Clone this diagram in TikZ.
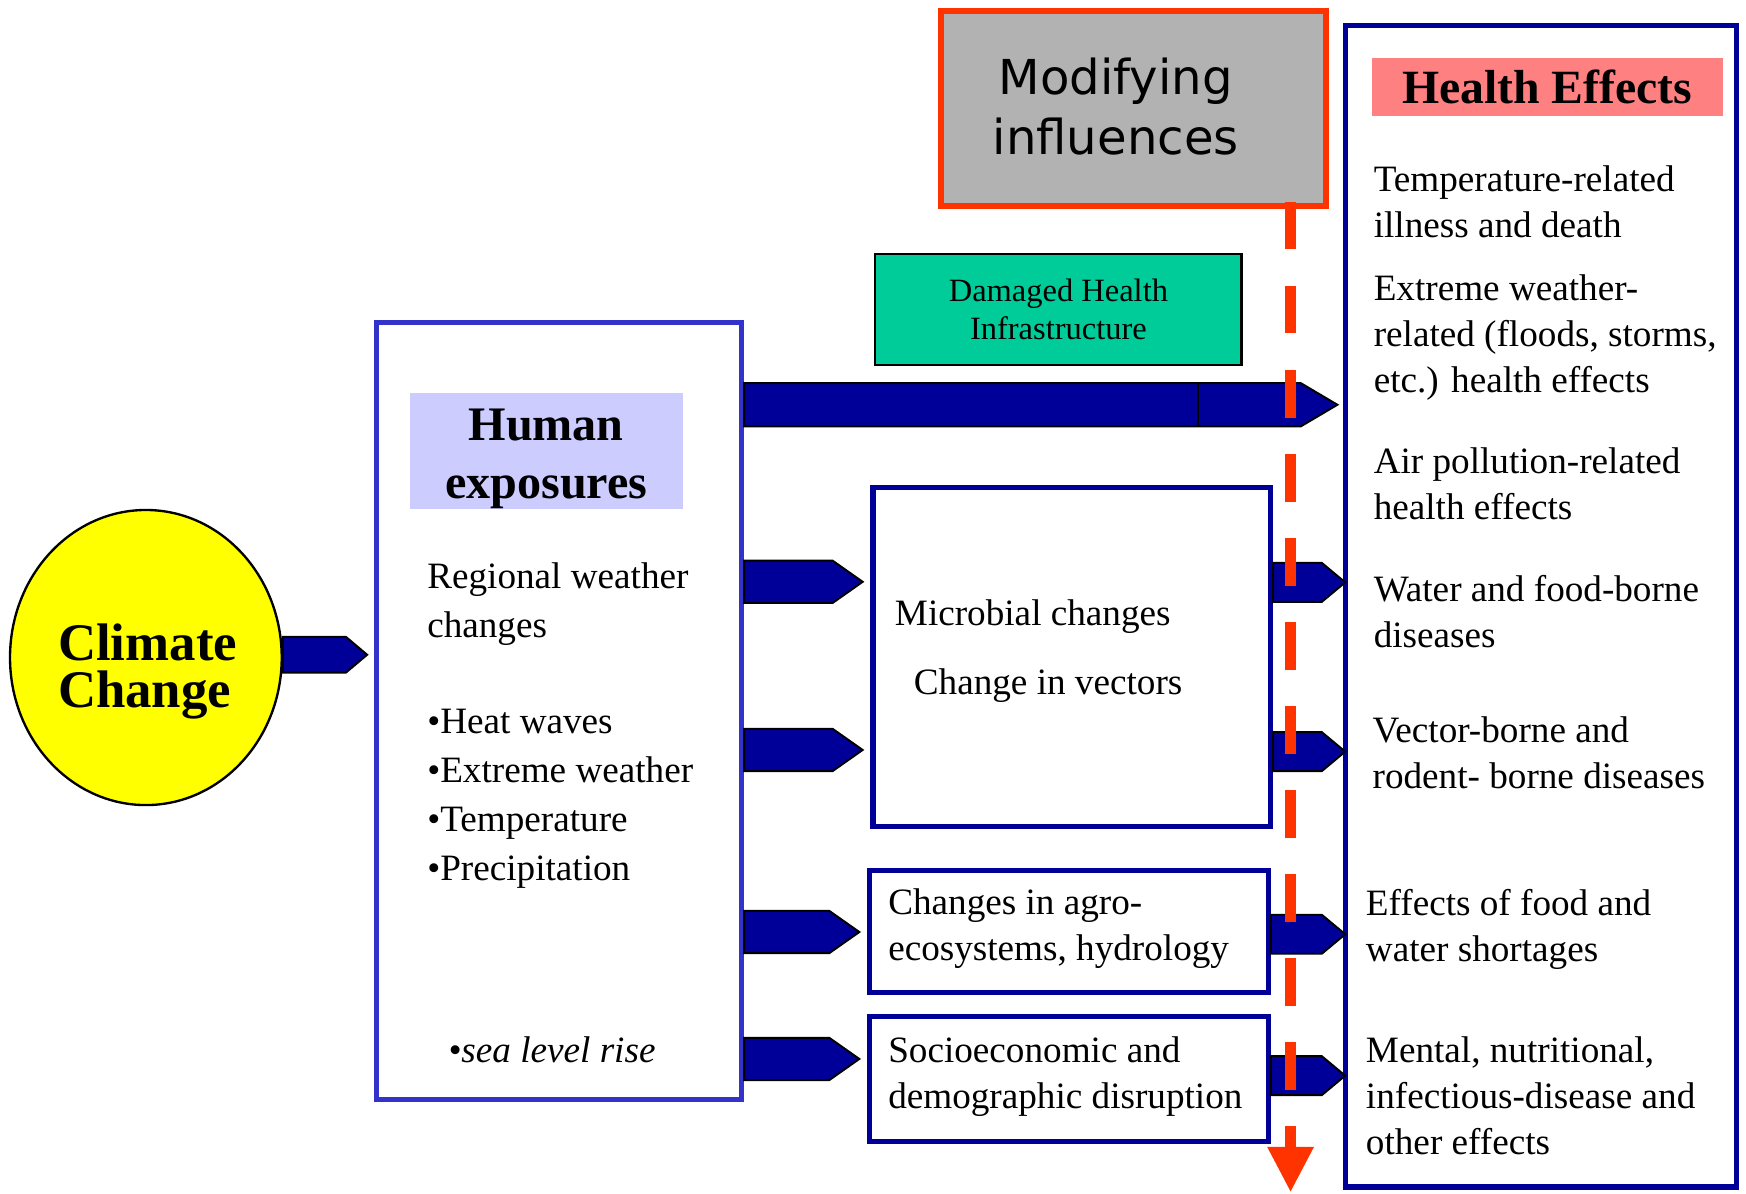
\documentclass[tikz,border=0pt]{standalone}
\usepackage{fontspec}
\setmainfont{Liberation Serif}
\newfontfamily\modfont{DejaVu Sans}
\usepackage{tikz}
\usetikzlibrary{arrows.meta,positioning,shapes,calc}
\definecolor{navyar}{RGB}{0,0,153}
\definecolor{boxblue}{RGB}{0,0,153}
\definecolor{humblue}{RGB}{51,51,204}
\definecolor{lavender}{RGB}{204,204,255}
\definecolor{salmon}{RGB}{255,128,128}
\definecolor{dmgreen}{RGB}{0,204,153}
\definecolor{modgray}{RGB}{178,178,178}
\definecolor{modred}{RGB}{255,51,0}
\definecolor{ccyellow}{RGB}{255,255,0}
\tikzset{
  ccball/.style={ellipse, draw=black, line width=0.6pt, fill=ccyellow, minimum width=2.44cm, minimum height=2.65cm, inner sep=0pt},
  cctext/.style={align=left, inner sep=0pt, font=\bfseries\fontsize{13.5}{12}\selectfont},
  humbox/.style={rectangle, draw=humblue, line width=1.3pt, minimum width=3.28cm, minimum height=6.97cm, inner sep=0pt},
  humhead/.style={rectangle, fill=lavender, minimum width=2.45cm, minimum height=1.04cm, inner sep=0pt},
  headtext/.style={align=center, inner sep=0pt, font=\bfseries\fontsize{12.3}{14.8}\selectfont},
  bodytext/.style={anchor=north west, align=left, inner sep=0pt, font=\fontsize{9.5}{11.8}\selectfont},
  infrabox/.style={rectangle, draw=black, line width=0.6pt, fill=dmgreen, minimum width=3.29cm, minimum height=1.0cm, inner sep=0pt, align=center, font=\fontsize{8.3}{9.7}\selectfont},
  modbox/.style={rectangle, draw=modred, fill=modgray, line width=1.4pt, minimum width=3.46cm, minimum height=1.75cm, inner sep=0pt},
  modtext/.style={align=center, inner sep=0pt, font=\modfont\fontsize{12.3}{15.2}\selectfont},
  midbox/.style={rectangle, draw=boxblue, line width=1.3pt, inner sep=0pt},
  hlthbox/.style={rectangle, draw=boxblue, line width=1.4pt, minimum width=3.51cm, minimum height=10.43cm, inner sep=0pt},
  hlthhead/.style={rectangle, fill=salmon, minimum width=3.15cm, minimum height=0.52cm, inner sep=0pt, font=\bfseries\fontsize{12.2}{14}\selectfont},
  sigar/.style n args={3}{draw=black, line width=0.5pt, fill=navyar,
    to path={let \p1=(\tikztostart), \p2=(\tikztotarget) in
      (\x1,\y1+#1) -- (\x2-#3-#2,\y1+#1) -- (\x2-#3,\y1) -- (\x2-#3-#2,\y1-#1) -- (\x1,\y1-#1) -- cycle}},
  modline/.style={draw=modred, line width=2.8pt, dash pattern=on 0.43cm off 0.325cm,
    -{Triangle[width=0.42cm, length=0.40cm, line width=0pt]}}
}
\begin{document}
\begin{tikzpicture}
\useasboundingbox (0,0) rectangle (15.68,-10.72);
% climate change and human exposures
\node[ccball] (clim) at (1.31,-5.905) {};
\node[cctext] (climtxt) at (1.325,-6.03) {Climate\\Change};
\node[humbox] (hum) at (5.02,-6.385) {};
\node[humhead] (humtitle) at (4.905,-4.05) {};
\node[headtext] (humtxt) at (4.905,-4.12) {Human\\exposures};
\node[bodytext, font=\fontsize{9.5}{12.5}\selectfont] (wthr) at (3.83,-5.05) {Regional weather\\changes\\[12pt]•Heat waves\\•Extreme weather\\•Temperature\\•Precipitation};
\node[bodytext, font=\itshape\fontsize{9.5}{11.8}\selectfont] (sea) at (4.02,-9.30) {•sea level rise};
% middle column
\node[modbox] (mod) at (10.18,-0.975) {};
\node[modtext] (modtxt) at (10.02,-0.955) {Modifying\\influences};
\node[infrabox] (dmg) at (9.505,-2.78) {Damaged Health\\Infrastructure};
\node[midbox, minimum width=3.57cm, minimum height=3.04cm] (mic) at (9.625,-5.9) {};
\node[bodytext] (micA) at (8.03,-5.375) {Microbial changes};
\node[bodytext] (micB) at (8.20,-6.0) {Change in vectors};
\node[midbox, minimum width=3.58cm, minimum height=1.09cm] (agro) at (9.60,-8.365) {};
\node[bodytext] (agrotxt) at (7.97,-7.97) {Changes in agro-\\ecosystems, hydrology};
\node[midbox, minimum width=3.58cm, minimum height=1.12cm] (soc) at (9.60,-9.69) {};
\node[bodytext] (soctxt) at (7.97,-9.30) {Socioeconomic and\\demographic disruption};
% health effects
\node[hlthbox] (hlt) at (13.84,-5.445) {};
\node[hlthhead] (hlttitle) at (13.895,-0.78) {Health Effects};
\node[bodytext] (h1) at (12.33,-1.478) {Temperature-related\\illness and death};
\node[bodytext] (h2) at (12.33,-2.46) {Extreme weather-\\related (floods, storms,\\etc.) health effects};
\node[bodytext] (h3) at (12.33,-4.01) {Air pollution-related\\health effects};
\node[bodytext] (h4) at (12.33,-5.16) {Water and food-borne\\diseases};
\node[bodytext] (h5) at (12.32,-6.43) {Vector-borne and\\rodent- borne diseases};
\node[bodytext] (h6) at (12.26,-7.98) {Effects of food and\\water shortages};
\node[bodytext] (h7) at (12.26,-9.30) {Mental, nutritional,\\infectious-disease and\\other effects};
% block arrows
\draw[sigar={0.16cm}{0.19cm}{0.06cm}] (clim.east |- 0,-5.88) to (hum.west |- 0,-5.88);
\draw[sigar={0.195cm}{0.33cm}{0.05cm}] (hum.east |- 0,-3.635) to (hlt.west |- 0,-3.635);
\draw (10.76,-3.44) -- (10.76,-3.83);
\foreach \r/\g in {5.225/mic, 6.735/mic, 8.37/agro, 9.51/soc}
  \draw[sigar={0.19cm}{0.27cm}{0.07cm}] (hum.east |- 0,-\r) to (\g.west |- 0,-\r);
\foreach \r/\g in {5.23/mic, 6.75/mic, 8.39/agro, 9.66/soc}
  \draw[sigar={0.175cm}{0.21cm}{-0.02cm}] (\g.east |- 0,-\r) to (hlt.west |- 0,-\r);
% modifying influences line
\coordinate (dtop) at (11.59,-1.81);
\coordinate (dbot) at (11.59,-10.70);
\draw[modline] (dtop) -- (dbot);
\end{tikzpicture}
\end{document}
